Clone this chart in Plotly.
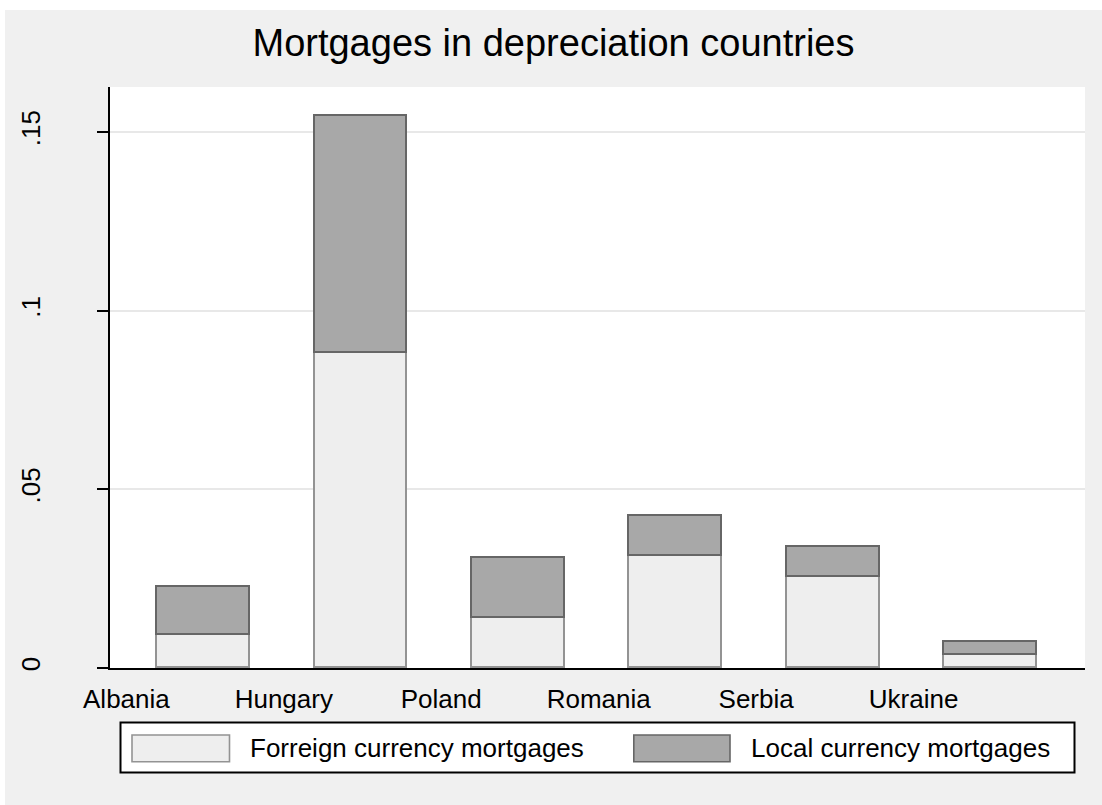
import plotly.graph_objects as go

# ---- data ----
countries = ["Albania", "Hungary", "Poland", "Romania", "Serbia", "Ukraine"]
foreign_currency = [0.0092, 0.0881, 0.0139, 0.0314, 0.0254, 0.0036]
local_currency = [0.0134, 0.0664, 0.0168, 0.0111, 0.0086, 0.0037]
series_names = ["Forreign currency mortgages", "Local currency mortgages"]
y_tickvals = [0, 0.05, 0.1, 0.15]
y_ticktext = ["0", ".05", ".1", ".15"]
title_text = "Mortgages in depreciation countries"

# ---- layout geometry (pixels) ----
W, H = 1102, 805
PL, PR, PT, PB = 110, 1085, 87, 668  # plot area edges
FONT = "Liberation Sans, Arial, sans-serif"
LIGHT, LIGHT_LINE = "#eeeeee", "#939393"
DARK, DARK_LINE = "#a8a8a8", "#666666"
BG = "#f0f0f0"


def px_x(p):
    return (p - PL) / (PR - PL)


def px_y(p):
    return (PB - p) / (PB - PT)


xpos = list(range(len(countries)))

fig = go.Figure()
fig.add_trace(go.Bar(x=xpos, y=foreign_currency, name=series_names[0], width=0.589,
                     marker=dict(color=LIGHT, line=dict(color=LIGHT_LINE, width=1.6)),
                     showlegend=False))
fig.add_trace(go.Bar(x=xpos, y=local_currency, name=series_names[1], width=0.589,
                     marker=dict(color=DARK, line=dict(color=DARK_LINE, width=1.6)),
                     showlegend=False))

shapes = []
# white strips on top / left of outer region
shapes.append(dict(type="rect", xref="paper", yref="paper", x0=px_x(0), x1=px_x(W + 5),
                   y0=px_y(10), y1=px_y(-5), fillcolor="white", line=dict(width=0)))
shapes.append(dict(type="rect", xref="paper", yref="paper", x0=px_x(-5), x1=px_x(5),
                   y0=px_y(H + 5), y1=px_y(-5), fillcolor="white", line=dict(width=0)))
# legend box
shapes.append(dict(type="rect", xref="paper", yref="paper", x0=px_x(120.5), x1=px_x(1074.5),
                   y0=px_y(772.5), y1=px_y(722.5), fillcolor="white",
                   line=dict(color="black", width=2)))
# legend keys
key_x = [(132, 229.5), (633.8, 730)]
key_cols = [(LIGHT, LIGHT_LINE), (DARK, DARK_LINE)]
text_x = [248, 749]
annotations = []
for (kx0, kx1), (fc, lc), tx, nm in zip(key_x, key_cols, text_x, series_names):
    shapes.append(dict(type="rect", xref="paper", yref="paper", x0=px_x(kx0), x1=px_x(kx1),
                       y0=px_y(761.7), y1=px_y(735), fillcolor=fc,
                       line=dict(color=lc, width=1.6)))
    annotations.append(dict(xref="paper", yref="paper", x=px_x(tx), y=px_y(748),
                            xanchor="left", yanchor="middle", showarrow=False, text=nm,
                            font=dict(family=FONT, size=26, color="black")))

fig.update_layout(
    width=W, height=H,
    margin=dict(l=PL, r=W - PR, t=PT, b=H - PB, pad=0),
    paper_bgcolor=BG, plot_bgcolor="white",
    barmode="stack", bargap=0,
    title=dict(text=title_text, x=553.5 / W, xanchor="center", xref="container",
               y=1 - 29 / H, yanchor="top", yref="container",
               font=dict(family=FONT, size=38, color="black")),
    font=dict(family=FONT, size=26, color="black"),
    shapes=shapes, annotations=annotations,
    xaxis=dict(range=[-0.594, 5.599], tickvals=[i - 0.49 for i in xpos], ticktext=countries,
               ticks="", showgrid=False, zeroline=False, showline=True, linecolor="black",
               linewidth=2, tickfont=dict(family=FONT, size=26, color="black"),
               ticklabelstandoff=7, fixedrange=True),
    yaxis=dict(range=[0, 0.1626], tickvals=y_tickvals, ticktext=y_ticktext, tickangle=-90,
               ticks="outside", ticklen=11, tickwidth=2, tickcolor="black",
               showline=True, linecolor="black", linewidth=2, zeroline=False,
               showgrid=True, gridcolor="#e8e8e8", gridwidth=2,
               tickfont=dict(family=FONT, size=26, color="black"), ticklabelstandoff=47),
)

fig.write_html("out.html", config={"displayModeBar": False},
               post_script="document.body.style.margin='0';")
